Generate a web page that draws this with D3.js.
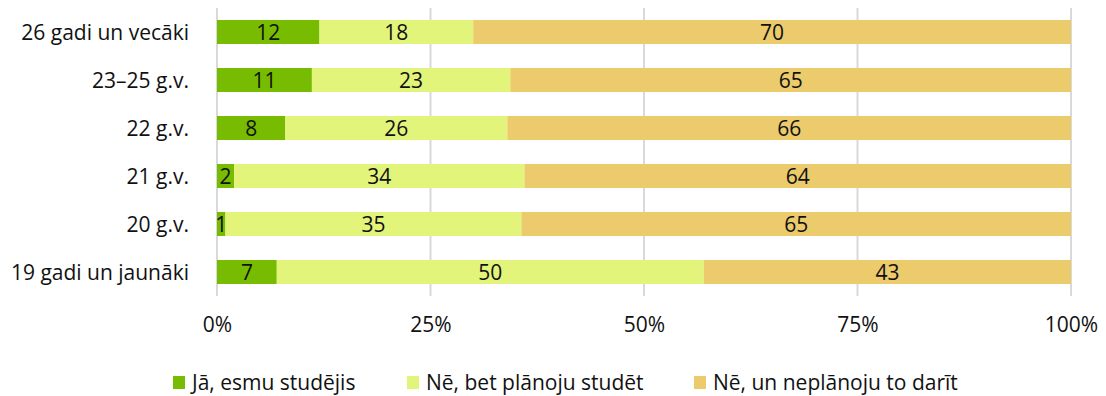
<!DOCTYPE html>
<html><head><meta charset="utf-8">
<script src="https://cdn.jsdelivr.net/npm/d3@7"></script>
<style>body{margin:0;background:#fff;}</style>
</head><body>
<svg id="c" width="1106" height="396"></svg>
<script>
const categories = ["26 gadi un vecāki","23–25 g.v.","22 g.v.","21 g.v.","20 g.v.","19 gadi un jaunāki"];
const seriesNames = ["Jā, esmu studējis","Nē, bet plānoju studēt","Nē, un neplānoju to darīt"];
const yes = [12,11,8,2,1,7];
const planning = [18,23,26,34,35,50];
const notPlanning = [70,65,66,64,65,43];
const tickValues = [0,0.25,0.5,0.75,1];
const colors = ["#77bc00","#e3f47a","#ebcb6b"];

const svg = d3.select("#c");
const font = '"Open Sans", sans-serif';
const fs = 21;
const x = d3.scaleLinear().domain([0,1]).range([217,1071]);
const y = d3.scaleBand().domain(categories).range([8,296]).paddingInner(0.5).paddingOuter(0.25);

const rows = categories.map((c,i)=>({cat:c, v:[yes[i],planning[i],notPlanning[i]]}));

// grid
svg.append("g").selectAll("line").data(tickValues).join("line")
  .attr("x1",d=>x(d)).attr("x2",d=>x(d)).attr("y1",8).attr("y2",296)
  .attr("stroke","#d9d9d9").attr("stroke-width",2);

// bars
rows.forEach(r=>{
  const tot = d3.sum(r.v);
  let acc = 0;
  r.v.forEach((v,k)=>{
    const x0 = x(acc/tot), x1 = x((acc+v)/tot);
    svg.append("rect").attr("x",x0).attr("y",y(r.cat)).attr("width",x1-x0).attr("height",y.bandwidth())
      .attr("fill",colors[k]);
    svg.append("text").attr("x",(x0+x1)/2).attr("y",y(r.cat)+y.bandwidth()/2).attr("dy","0.36em")
      .attr("text-anchor","middle").attr("font-family",font).attr("font-size",fs).attr("fill","#111").text(v);
    acc += v;
  });
});

// y labels
svg.append("g").selectAll("text").data(categories).join("text")
  .attr("x",189).attr("y",d=>y(d)+y.bandwidth()/2).attr("dy","0.36em").attr("text-anchor","end")
  .attr("font-family",font).attr("font-size",fs).attr("fill","#111").text(d=>d);

// x axis
const xa = svg.append("g").attr("transform","translate(0,314)")
  .call(d3.axisBottom(x).tickValues(tickValues).tickFormat(d3.format(".0%")).tickSize(0));
xa.select(".domain").remove();
xa.selectAll("text").attr("font-family",font).attr("font-size",fs).attr("fill","#111").attr("dy","0.71em");

// legend
const lx = [173,407,694];
seriesNames.forEach((s,k)=>{
  svg.append("rect").attr("x",lx[k]).attr("y",376).attr("width",12).attr("height",13).attr("fill",colors[k]);
  svg.append("text").attr("x",lx[k]+19).attr("y",382).attr("dy","0.36em").attr("font-family",font)
    .attr("font-size",fs).attr("fill","#111").text(s);
});
</script>
</body></html>
